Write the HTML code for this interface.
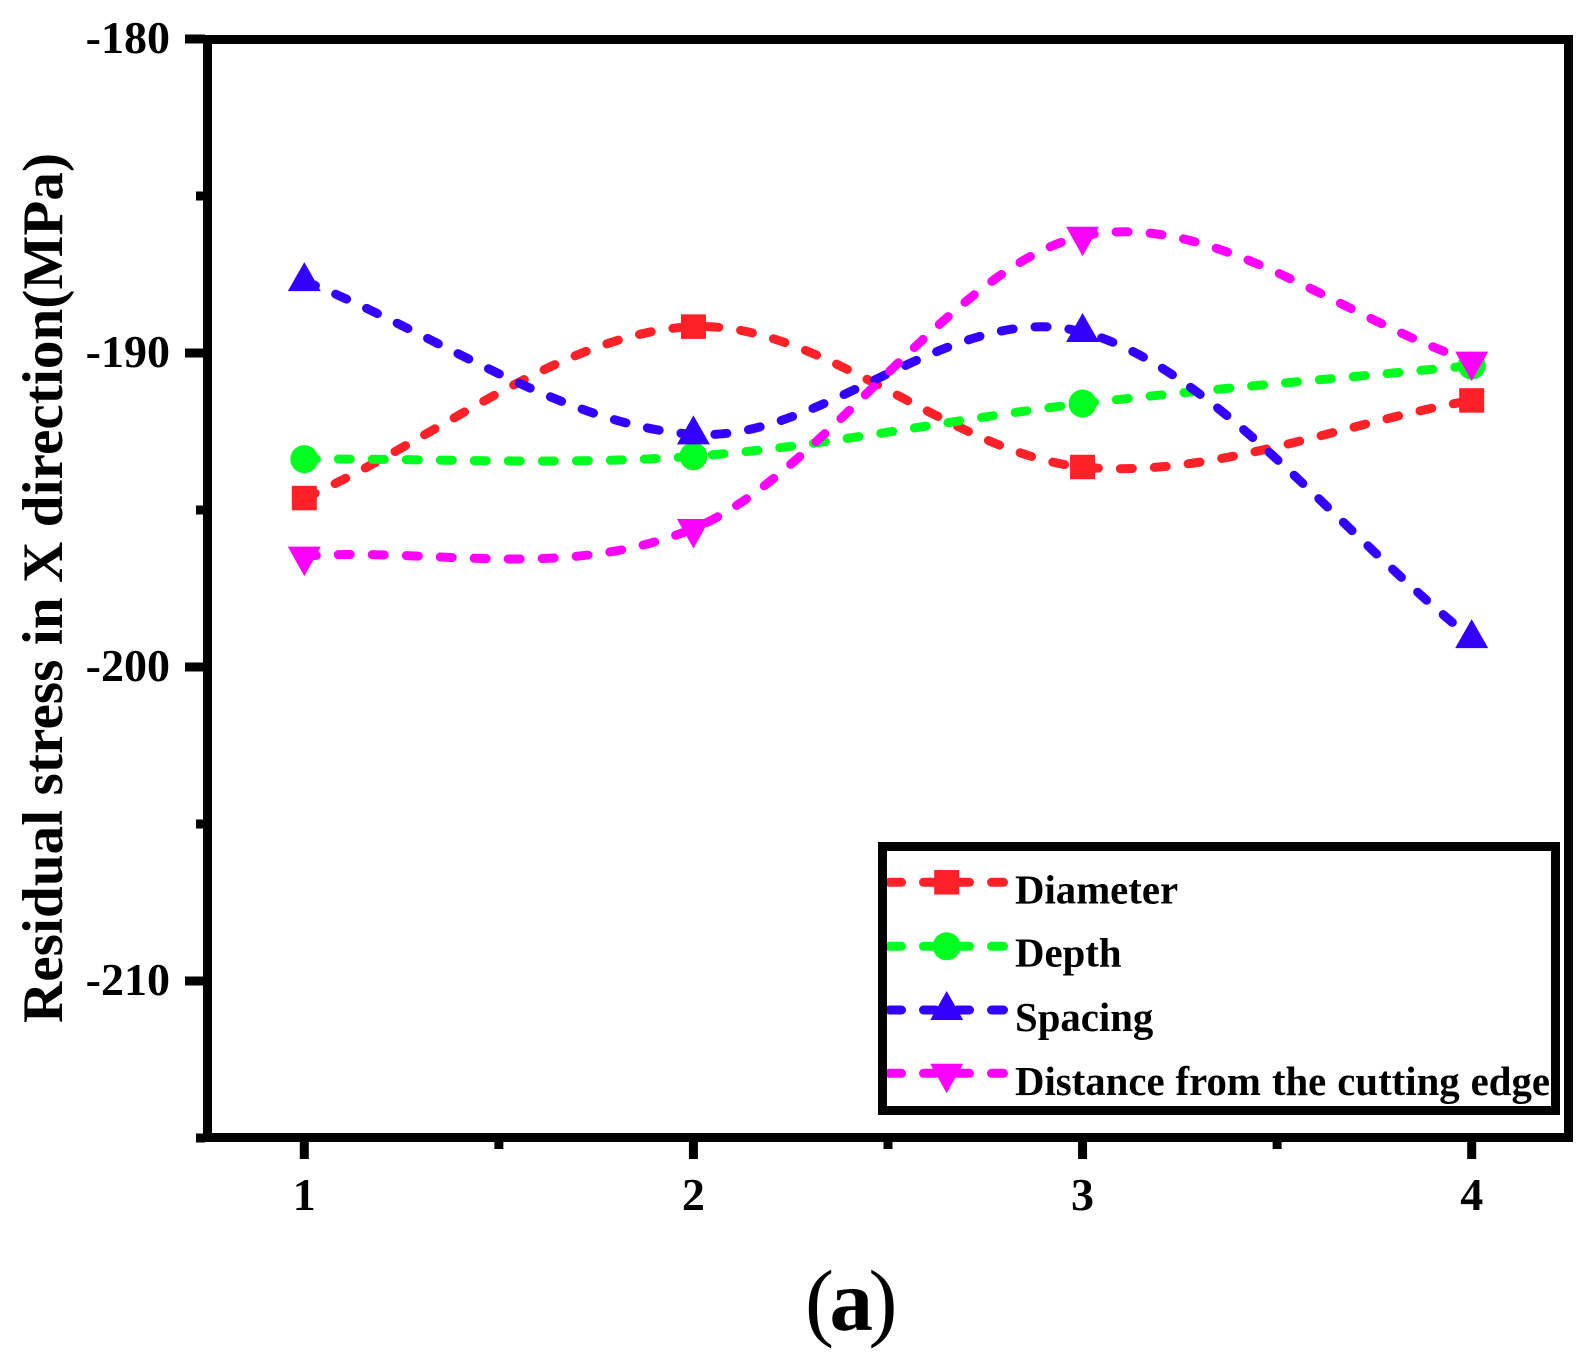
<!DOCTYPE html>
<html lang="en">
<head>
<meta charset="utf-8">
<title>Residual stress in X direction</title>
<style>
html,body{margin:0;padding:0;background:#fff;}
body{width:1592px;height:1364px;overflow:hidden;}
svg{display:block;}
text{font-family:"Liberation Serif",serif;fill:#000;}
</style>
</head>
<body>
<svg id="chart" xmlns="http://www.w3.org/2000/svg" width="1592" height="1364" viewBox="0 0 1592 1364">
  <rect x="0" y="0" width="1592" height="1364" fill="#ffffff"/>
  <g id="axes"></g>
  <g id="series"></g>
  <text transform="translate(62,1023) rotate(-90)" font-size="57" font-weight="700" textLength="870" lengthAdjust="spacing">Residual stress in X direction(MPa)</text>
  <g>
    <g id="legend-entries"></g>
    <rect x="882.5" y="846.5" width="673" height="264" fill="none" stroke="#000" stroke-width="9"/>
  </g>
  <text x="849" y="1330" text-anchor="middle" font-size="87" letter-spacing="-4.5"><tspan>(</tspan><tspan font-weight="700">a</tspan><tspan>)</tspan></text>
</svg>
<script>
const categories = [1, 2, 3, 4];
const diameterValues = [-194.62, -189.16, -193.63, -191.51];
const depthValues = [-193.38, -193.29, -191.61, -190.40];
const spacingValues = [-187.71, -192.59, -189.33, -199.08];
const distanceValues = [-196.47, -195.59, -186.28, -190.26];
const seriesNames = ['Diameter', 'Depth', 'Spacing', 'Distance from the cutting edge'];
const yMajorTicks = [-180, -190, -200, -210];
const yMinorTicks = [-185, -195, -205, -215];
const xMajorTicks = [1, 2, 3, 4];
const xMinorTicks = [1.5, 2.5, 3.5];

const NS = 'http://www.w3.org/2000/svg';
function xScale(v) { return 304.3 + (v - 1) * 389.13; }
function yScale(v) { return 39 + (-180 - v) * 31.4; }

function make(tag, attrs, parent) {
  const el = document.createElementNS(NS, tag);
  for (const k in attrs) el.setAttribute(k, attrs[k]);
  parent.appendChild(el);
  return el;
}

function smoothPath(xs, ys) {
  const n = xs.length;
  const slope = [];
  for (let i = 0; i < n; i++) {
    if (i === 0) slope.push(ys[1] - ys[0]);
    else if (i === n - 1) slope.push(ys[n - 1] - ys[n - 2]);
    else slope.push((ys[i + 1] - ys[i - 1]) / 2);
  }
  let d = 'M' + xs[0] + ' ' + ys[0];
  for (let i = 0; i < n - 1; i++) {
    const h = xs[i + 1] - xs[i];
    d += ' C' + (xs[i] + h / 3) + ' ' + (ys[i] + slope[i] / 3) + ' ' +
         (xs[i + 1] - h / 3) + ' ' + (ys[i + 1] - slope[i + 1] / 3) + ' ' +
         xs[i + 1] + ' ' + ys[i + 1];
  }
  return d;
}

function drawMarker(kind, cx, cy, color, parent) {
  let el;
  if (kind === 'square') {
    el = make('rect', { x: cx - 12.5, y: cy - 12.25, width: 25, height: 24.5, fill: color }, parent);
  } else if (kind === 'circle') {
    el = make('circle', { cx: cx, cy: cy, r: 14, fill: color }, parent);
  } else if (kind === 'up') {
    el = make('polygon', { points: (cx - 16.5) + ',' + (cy + 10) + ' ' + cx + ',' + (cy - 19) + ' ' + (cx + 16.5) + ',' + (cy + 10), fill: color }, parent);
  } else {
    el = make('polygon', { points: (cx - 16.5) + ',' + (cy - 9.5) + ' ' + cx + ',' + (cy + 20) + ' ' + (cx + 16.5) + ',' + (cy - 9.5), fill: color }, parent);
  }
  return el;
}

/* axes */
const axes = document.getElementById('axes');
const frameTop = make('rect', { x: 203, y: 35, width: 1370, height: 9, fill: '#000' }, axes);


const frameBottom = make('rect', { x: 203, y: 1133, width: 1370, height: 9, fill: '#000' }, axes);


const frameLeft = make('rect', { x: 203, y: 35, width: 9, height: 1107, fill: '#000' }, axes);


const frameRight = make('rect', { x: 1564, y: 35, width: 9, height: 1107, fill: '#000' }, axes);



yMajorTicks.forEach(function (t) {
  const tick = make('rect', { x: 185, y: yScale(t) - 4.5, width: 20, height: 9, fill: '#000' }, axes);
  
  
  const label = make('text', { x: 170, y: yScale(t) + 14, 'text-anchor': 'end', 'font-size': 46, 'font-weight': 700 }, axes);
  
  
  label.textContent = String(t);
});
yMinorTicks.forEach(function (t) {
  const tick = make('rect', { x: 196, y: yScale(t) - 4.5, width: 9, height: 9, fill: '#000' }, axes);
  
  
});
xMajorTicks.forEach(function (t) {
  const tick = make('rect', { x: xScale(t) - 4.5, y: 1140, width: 9, height: 19, fill: '#000' }, axes);
  
  
  const label = make('text', { x: xScale(t), y: 1210, 'text-anchor': 'middle', 'font-size': 46, 'font-weight': 700 }, axes);
  
  
  label.textContent = String(t);
});
xMinorTicks.forEach(function (t) {
  const tick = make('rect', { x: xScale(t) - 4.5, y: 1140, width: 9, height: 9, fill: '#000' }, axes);
  
  
});

/* series */
const seriesLayer = document.getElementById('series');
const palette = ['#ff2128', '#00ff1e', '#3300ff', '#ff00ff'];
const markerKinds = ['square', 'circle', 'up', 'down'];
const allValues = [diameterValues, depthValues, spacingValues, distanceValues];
const seriesKeys = ['diameter', 'depth', 'spacing', 'distance'];

allValues.forEach(function (vals, s) {
  const xs = categories.map(xScale);
  const ys = vals.map(yScale);
  const group = make('g', {}, seriesLayer);
  
  
  const line = make('path', {
    d: smoothPath(xs, ys), fill: 'none', stroke: palette[s], 'stroke-width': 9,
    'stroke-linecap': 'round', 'stroke-dasharray': '12 22'
  }, group);
  
  
  xs.forEach(function (px, i) {
    const m = drawMarker(markerKinds[s], px, ys[i], palette[s], group);
    
    
  });
});

/* legend */
const legendLayer = document.getElementById('legend-entries');
const legendRows = [882.3, 946.3, 1010, 1073.3];
const legendBaselines = [903.3, 966.7, 1031, 1095];
seriesNames.forEach(function (name, s) {
  const row = make('g', {}, legendLayer);
  
  
  const sample = make('line', {
    x1: 889.5, x2: 1004, y1: legendRows[s], y2: legendRows[s], stroke: palette[s], 'stroke-width': 9,
    'stroke-linecap': 'round', 'stroke-dasharray': '12 22'
  }, row);
  
  
  const mk = drawMarker(markerKinds[s], 946.7, legendRows[s], palette[s], row);
  
  
  const label = make('text', { x: 1015, y: legendBaselines[s], 'font-size': 40.8, 'font-weight': 700, 'word-spacing': 0.8 }, row);
  
  
  label.textContent = name;
});
</script>
</body>
</html>
